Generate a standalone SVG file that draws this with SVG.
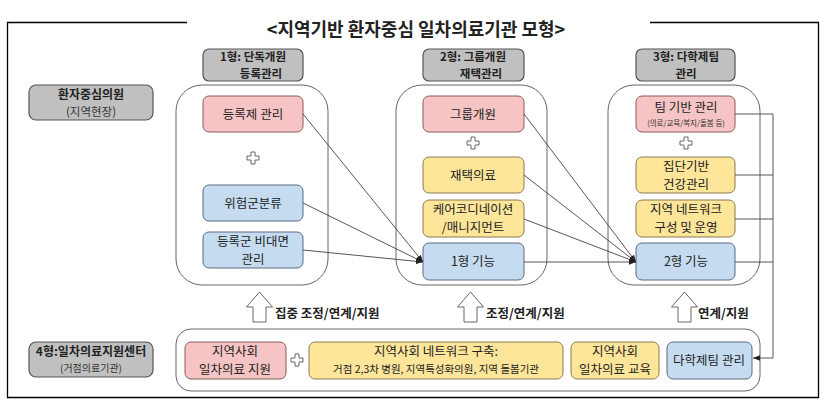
<svg xmlns="http://www.w3.org/2000/svg" width="829" height="412" viewBox="0 0 829 412">
<style>
text{font-family:"Noto Sans CJK KR","Noto Sans",sans-serif;text-anchor:middle;fill:#222}
.st{text-anchor:start}
.t{font-size:12.5px}
.h{font-size:12px;font-weight:bold}
.hh{font-size:11.5px;font-weight:bold}
.s{font-size:7.5px;fill:#333}
.b{font-weight:bold}
.hdr{fill:#c0c0c0;stroke:#555;stroke-width:1.2}
.pink{fill:#f6c4c4;stroke:#8a5a5a;stroke-width:1}
.yel{fill:#fde59a;stroke:#8a7a50;stroke-width:1}
.blue{fill:#c4dbf0;stroke:#5a6a80;stroke-width:1}
.cont{fill:#fff;stroke:#666;stroke-width:1}
.ln{stroke:#444;stroke-width:0.9;fill:none}
.plus{fill:#fff;stroke:#666;stroke-width:1}
.barrow{fill:#fff;stroke:#666;stroke-width:1}
</style>
<defs>
<marker id="ah" viewBox="0 0 10 10" refX="10" refY="5" markerWidth="7" markerHeight="7" orient="auto" markerUnits="userSpaceOnUse">
<path d="M0,1 L10,5 L0,9 Z" fill="#222"/>
</marker>
<path id="pl" d="M-2,-6 h4 v4 h4 v4 h-4 v4 h-4 v-4 h-4 v-4 h4 Z"/>
<path id="ba" d="M0,0 L13,15 L6.5,15 L6.5,30 L-6.5,30 L-6.5,15 L-13,15 Z"/>
</defs>
<rect width="829" height="412" fill="#fff"/>
<path d="M187,22.5 H7.5 V397.5 H818.5 V22.5 H650" fill="none" stroke="#000" stroke-width="1.3"/>
<text x="416" y="36" font-size="18" class="b" fill="#111">&lt;지역기반 환자중심 일차의료기관 모형&gt;</text>

<g id="label-clinic">
<rect class="hdr" x="29" y="85" width="124" height="35" rx="7"/>
<text x="91" y="99"><tspan class="h">환자중심의원</tspan><tspan x="91" dy="17" font-size="11.5" fill="#333">(지역현장)</tspan></text>
</g>
<g id="label-center">
<rect class="hdr" x="29" y="342" width="124" height="35" rx="7"/>
<text x="91" y="356"><tspan class="h">4형:일차의료지원센터</tspan><tspan x="91" dy="16" font-size="10" fill="#333">(거점의료기관)</tspan></text>
</g>

<g id="type1">
<rect class="hdr" x="203" y="49" width="100" height="32" rx="6"/>
<text class="hh" x="253" y="61">1형: 단독개원<tspan x="261" dy="17">등록관리</tspan></text>
<rect class="cont" x="176" y="85" width="152" height="200" rx="26"/>
</g>
<g id="type2">
<rect class="hdr" x="423" y="49" width="101" height="32" rx="6"/>
<text class="hh" x="473" y="61">2형: 그룹개원<tspan x="481" dy="17">재택관리</tspan></text>
<rect class="cont" x="396" y="85" width="151" height="200" rx="26"/>
</g>
<g id="type3">
<rect class="hdr" x="636" y="49" width="99" height="32" rx="6"/>
<text class="hh" x="686" y="61">3형: 다학제팀<tspan x="686" dy="17">관리</tspan></text>
<rect class="cont" x="608" y="85" width="152" height="200" rx="26"/>
</g>

<g id="n-reg"><rect class="pink" x="203" y="96" width="100" height="36" rx="6"/><text class="t" x="253" y="119">등록제 관리</text></g>
<g id="plus1"><use href="#pl" class="plus" x="253" y="158"/></g>
<g id="n-risk"><rect class="blue" x="203" y="185" width="100" height="36" rx="6"/><text class="t" x="253" y="208">위험군분류</text></g>
<g id="n-remote"><rect class="blue" x="203" y="232" width="100" height="36" rx="6"/><text class="t" x="253" y="245.5">등록군 비대면<tspan x="253" dy="18.3">관리</tspan></text></g>

<g id="n-group"><rect class="pink" x="423" y="96" width="101" height="36" rx="6"/><text class="t" x="473" y="119">그룹개원</text></g>
<g id="plus2"><use href="#pl" class="plus" x="473" y="143"/></g>
<g id="n-home"><rect class="yel" x="423" y="157" width="101" height="36" rx="6"/><text class="t" x="473" y="180">재택의료</text></g>
<g id="n-care"><rect class="yel" x="423" y="200" width="101" height="37" rx="6"/><text class="t" x="473" y="214">케어코디네이션<tspan x="473" dy="18.3">/매니지먼트</tspan></text></g>
<g id="n-f1"><rect class="blue" x="423" y="243" width="101" height="37" rx="6"/><text class="t" x="473" y="266">1형 기능</text></g>

<g id="n-team"><rect class="pink" x="636" y="96" width="99" height="36" rx="6"/><text class="t" x="686" y="112">팀 기반 관리<tspan x="686" dy="14" class="s">(의료/교육/복지/돌봄 등)</tspan></text></g>
<g id="plus3"><use href="#pl" class="plus" x="686" y="143"/></g>
<g id="n-pop"><rect class="yel" x="636" y="157" width="99" height="36" rx="6"/><text class="t" x="686" y="170.5">집단기반<tspan x="686" dy="18.3">건강관리</tspan></text></g>
<g id="n-net"><rect class="yel" x="636" y="200" width="99" height="37" rx="6"/><text class="t" x="686" y="214">지역 네트워크<tspan x="686" dy="18.3">구성 및 운영</tspan></text></g>
<g id="n-f2"><rect class="blue" x="636" y="243" width="99" height="37" rx="6"/><text class="t" x="686" y="266">2형 기능</text></g>

<g id="center">
<rect class="cont" x="176" y="329" width="584" height="62" rx="15"/>
</g>
<g id="n-support"><rect class="pink" x="185" y="342" width="101" height="37" rx="6"/><text class="t" x="235" y="356">지역사회<tspan x="235" dy="18.3">일차의료 지원</tspan></text></g>
<g id="plus4"><use href="#pl" class="plus" x="297" y="360"/></g>
<g id="n-build"><rect class="yel" x="309" y="342" width="254" height="37" rx="6"/><text class="t" x="436" y="356">지역사회 네트워크 구축:<tspan x="436" dy="17" font-size="10.5">거점 2,3차 병원, 지역특성화의원, 지역 돌봄기관</tspan></text></g>
<g id="n-edu"><rect class="yel" x="571" y="342" width="88" height="37" rx="6"/><text class="t" x="615" y="356">지역사회<tspan x="615" dy="18.3">일차의료 교육</tspan></text></g>
<g id="n-multi"><rect class="blue" x="667" y="342" width="85" height="37" rx="6"/><text class="t" x="709" y="365">다학제팀 관리</text></g>

<g id="up-arrows">
<use href="#ba" class="barrow" x="259.5" y="292"/>
<text class="t b st" x="275" y="318">집중 조정/연계/지원</text>
<use href="#ba" class="barrow" x="470.5" y="292"/>
<text class="t b st" x="486" y="318">조정/연계/지원</text>
<use href="#ba" class="barrow" x="684.5" y="292"/>
<text class="t b st" x="698" y="318">연계/지원</text>
</g>

<g id="connectors">
<line class="ln" x1="303" y1="114" x2="423" y2="262" marker-end="url(#ah)"/>
<line class="ln" x1="303" y1="203" x2="423" y2="262" marker-end="url(#ah)"/>
<line class="ln" x1="303" y1="250" x2="423" y2="262" marker-end="url(#ah)"/>
<line class="ln" x1="524" y1="114" x2="636" y2="262" marker-end="url(#ah)"/>
<line class="ln" x1="524" y1="175" x2="636" y2="262" marker-end="url(#ah)"/>
<line class="ln" x1="524" y1="219" x2="636" y2="262" marker-end="url(#ah)"/>
<line class="ln" x1="524" y1="262" x2="636" y2="262" marker-end="url(#ah)"/>
<path class="ln" d="M735,114 H773 V358 H753" marker-end="url(#ah)"/>
<line class="ln" x1="735" y1="175" x2="773" y2="175"/>
<line class="ln" x1="735" y1="219" x2="773" y2="219"/>
<line class="ln" x1="735" y1="262" x2="773" y2="262"/>
</g>
</svg>
